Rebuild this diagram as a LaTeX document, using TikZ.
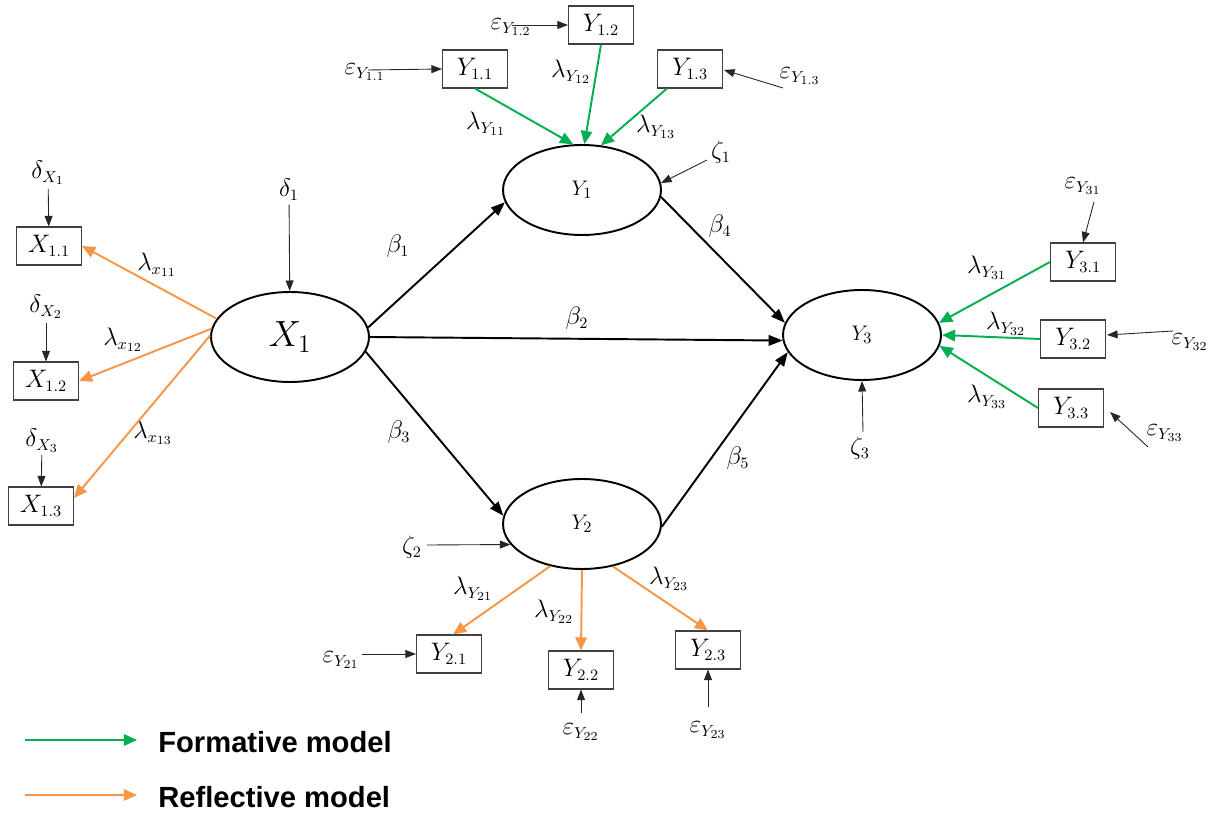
\documentclass[tikz,border=0pt]{standalone}
\usepackage{fontspec}
\setmainfont{Liberation Serif}
\setsansfont{Liberation Sans}
\usetikzlibrary{arrows.meta,calc,shapes.geometric}
\definecolor{formgreen}{RGB}{0,176,80}
\definecolor{reflorange}{RGB}{247,150,70}
\begin{document}
\begin{tikzpicture}[x=0.02cm,y=-0.02cm,
  lat/.style={ellipse,draw,line width=1.1pt,minimum width=3.16cm,minimum height=1.8cm,inner sep=0pt},
  ind/.style={rectangle,draw=black!75,line width=0.6pt,minimum width=1.3cm,minimum height=0.76cm,inner sep=0pt,font=\fontsize{13.5}{15}\selectfont},
  lbl/.style={inner sep=0pt,font=\fontsize{13.5}{15}\selectfont},
  strarrow/.style={line width=1.1pt,-{Triangle[length=8pt,width=6pt]}},
  errarrow/.style={black!85,line width=0.5pt,-{Triangle[length=6pt,width=4.5pt]}},
  formarrow/.style={formgreen,line width=1.1pt,-{Triangle[length=7.5pt,width=6.5pt]}},
  reflarrow/.style={reflorange,line width=1.1pt,-{Triangle[length=7.5pt,width=6.5pt]}},
  legtext/.style={font=\sffamily\bfseries\fontsize{16.6}{20}\selectfont,anchor=west,inner sep=0pt}]
\useasboundingbox (0,0) rectangle (1210,813);

% latent variables
\node[lat,font=\fontsize{20}{22}\selectfont] (X1) at (290,337) {$X_1$};
\node[lat,font=\fontsize{12.5}{14}\selectfont] (Y1) at (582,190) {$Y_1$};
\node[lat,font=\fontsize{12.5}{14}\selectfont] (Y2) at (582,524) {$Y_2$};
\node[lat,font=\fontsize{12.5}{14}\selectfont] (Y3) at (862,335) {$Y_3$};

% indicators
\node[ind] (x11) at (49,246) {$X_{1.1}$};
\node[ind] (x12) at (46,381) {$X_{1.2}$};
\node[ind] (x13) at (41,506) {$X_{1.3}$};
\node[ind] (y11) at (475,69) {$Y_{1.1}$};
\node[ind] (y12) at (601,25) {$Y_{1.2}$};
\node[ind] (y13) at (690,69) {$Y_{1.3}$};
\node[ind] (y31) at (1083,262) {$Y_{3.1}$};
\node[ind] (y32) at (1073,339) {$Y_{3.2}$};
\node[ind] (y33) at (1071,408) {$Y_{3.3}$};
\node[ind] (y21) at (449,654) {$Y_{2.1}$};
\node[ind] (y22) at (581,670) {$Y_{2.2}$};
\node[ind] (y23) at (708,650) {$Y_{2.3}$};

% error labels
\node[lbl] (dx1) at (48,173) {$\delta_{X_1}$};
\node[lbl] (dx2) at (46,307) {$\delta_{X_2}$};
\node[lbl] (dx3) at (42,441) {$\delta_{X_3}$};
\node[lbl] (d1) at (289,190) {$\delta_1$};
\node[lbl] (ey11) at (365,72) {$\varepsilon_{Y_{1.1}}$};
\node[lbl] (ey12) at (511,27) {$\varepsilon_{Y_{1.2}}$};
\node[lbl] (ey13) at (800,76) {$\varepsilon_{Y_{1.3}}$};
\node[lbl] (z1) at (721,152) {$\zeta_1$};
\node[lbl] (z2) at (412,547) {$\zeta_2$};
\node[lbl] (z3) at (860,448) {$\zeta_3$};
\node[lbl] (ey31) at (1083,186) {$\varepsilon_{Y_{31}}$};
\node[lbl] (ey32) at (1190,342) {$\varepsilon_{Y_{32}}$};
\node[lbl] (ey33) at (1165,433) {$\varepsilon_{Y_{33}}$};
\node[lbl] (ey21) at (341,660) {$\varepsilon_{Y_{21}}$};
\node[lbl] (ey22) at (581,732) {$\varepsilon_{Y_{22}}$};
\node[lbl] (ey23) at (708,730) {$\varepsilon_{Y_{23}}$};

% loading labels
\node[lbl] (lx11) at (157,265) {$\lambda_{x_{11}}$};
\node[lbl] (lx12) at (123,340) {$\lambda_{x_{12}}$};
\node[lbl] (lx13) at (153,433) {$\lambda_{x_{13}}$};
\node[lbl] (ly11) at (486,124) {$\lambda_{Y_{11}}$};
\node[lbl] (ly12) at (571,72) {$\lambda_{Y_{12}}$};
\node[lbl] (ly13) at (656,127) {$\lambda_{Y_{13}}$};
\node[lbl] (ly31) at (987,268) {$\lambda_{Y_{31}}$};
\node[lbl] (ly32) at (1006,324) {$\lambda_{Y_{32}}$};
\node[lbl] (ly33) at (987,397) {$\lambda_{Y_{33}}$};
\node[lbl] (ly21) at (473,589) {$\lambda_{Y_{21}}$};
\node[lbl] (ly22) at (554,612) {$\lambda_{Y_{22}}$};
\node[lbl] (ly23) at (669,579) {$\lambda_{Y_{23}}$};

% path labels
\node[lbl] (b1) at (398,246) {$\beta_1$};
\node[lbl] (b2) at (577,318) {$\beta_2$};
\node[lbl] (b3) at (399,432) {$\beta_3$};
\node[lbl] (b4) at (720,226) {$\beta_4$};
\node[lbl] (b5) at (738,458) {$\beta_5$};

% structural paths
\draw[strarrow] (X1.7) -- (Y1.189);
\draw[strarrow] (X1.0) -- (Y3.184);
\draw[strarrow] (X1.-11) -- (Y2.174);
\draw[strarrow] (Y1.-5) -- (Y3.171);
\draw[strarrow] (Y2.-2) -- (Y3.193);

% reflective X1
\draw[reflarrow] (X1.166) -- (x11.east);
\draw[reflarrow] (X1.174) -- (x12.east);
\draw[reflarrow] (X1.179) -- ($(x13.east)+(0,-8)$);

% formative Y1
\draw[formarrow] (y11.south) -- (Y1.101);
\draw[formarrow] (y12.south) -- (Y1.87);
\draw[formarrow] ($(y13.south)+(-23,0)$) -- (Y1.67);

% formative Y3
\draw[formarrow] (y31.west) -- (Y3.9);
\draw[formarrow] (y32.west) -- (Y3.0);
\draw[formarrow] (y33.west) -- (Y3.-8);

% reflective Y2
\draw[reflarrow] (Y2.233) -- ($(y21.north)+(4,0)$);
\draw[reflarrow] (Y2.270) -- (y22.north);
\draw[reflarrow] (Y2.306) -- (y23.north);

% error arrows
\coordinate (ce11) at (368,70);
\coordinate (ce12) at (512,25);
\coordinate (ce13) at (783,88);
\coordinate (cz1) at (707,160);
\coordinate (cz2) at (427,545);
\coordinate (cz3) at (863,432);
\coordinate (ce31) at (1094,202);
\coordinate (ce32) at (1173,331);
\coordinate (ce33) at (1148,447);
\coordinate (ce21) at (362,654);
\coordinate (ce22) at (581,713);
\coordinate (ce23) at (708,707);
\draw[errarrow,shorten <=2pt] (dx1) -- (x11);
\draw[errarrow,shorten <=2pt] (dx2) -- (x12);
\draw[errarrow,shorten <=1pt] (dx3) -- (x13);
\draw[errarrow,shorten <=2pt] (d1) -- (X1);
\draw[errarrow] (ce11) -- (y11.west);
\draw[errarrow] (ce12) -- (y12.west);
\draw[errarrow] (ce13) -- ($(y13.east)+(1,1)$);
\draw[errarrow] (cz1) -- (Y1.5);
\draw[errarrow] (cz2) -- (Y2.196);
\draw[errarrow] (cz3) -- (Y3.south);
\draw[errarrow] (ce31) -- (y31.north);
\draw[errarrow] (ce32) -- ($(y32.east)+(1,-4)$);
\draw[errarrow] (ce33) -- ($(y33.east)+(6,4)$);
\draw[errarrow] (ce21) -- (y21.west);
\draw[errarrow] (ce22) -- (y22.south);
\draw[errarrow] (ce23) -- (y23.south);

% legend
\coordinate (lg1a) at (25,740);
\coordinate (lg1b) at (137,740);
\coordinate (lg2a) at (25,795);
\coordinate (lg2b) at (137,795);
\node[legtext] (lg1) at (158,742) {Formative model};
\node[legtext] (lg2) at (158,797) {Reflective model};
\draw[formarrow] (lg1a) -- (lg1b);
\draw[reflarrow] (lg2a) -- (lg2b);
\end{tikzpicture}
\end{document}
